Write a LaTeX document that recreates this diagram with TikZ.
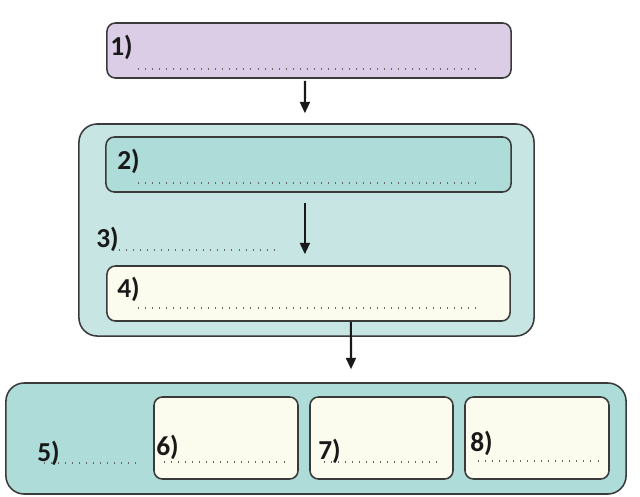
\documentclass[tikz,border=0pt]{standalone}
\usepackage{fontspec}
\setmainfont{Carlito}
\usetikzlibrary{arrows.meta}
\definecolor{lilac}{HTML}{DBCDE6}
\definecolor{paleteal}{HTML}{C6E5E3}
\definecolor{teal2}{HTML}{AEDDD9}
\definecolor{cream}{HTML}{FCFCEE}
\definecolor{edge}{HTML}{3A3A3A}
\tikzset{
  box/.style={draw=edge, line width=1.1pt, rounded corners=6pt, inner sep=0pt},
  grp/.style={box, rounded corners=13pt},
  num/.style={anchor=west, inner sep=0pt, text=black!90, font=\fontsize{19.5}{22}\selectfont\bfseries},
  dots/.style={draw=black!60, line width=0.9pt, dash pattern=on 0.7pt off 4.3pt},
  arr/.style={-{Triangle[length=8pt,width=7pt]}, line width=1.5pt, draw=black!90}
}
\begin{document}
\begin{tikzpicture}[x=0.025cm, y=-0.025cm]
\useasboundingbox (0,0) rectangle (640,496);

\node[box, fill=lilac, minimum width=10.1cm, minimum height=1.375cm] (box1) at (309,50.5) {};
\node[grp, fill=paleteal, minimum width=11.375cm, minimum height=5.3cm] (grpA) at (306.5,230) {};
\node[box, fill=teal2, minimum width=10.125cm, minimum height=1.375cm] (box2) at (308.5,164.5) {};
\node[box, fill=cream, minimum width=10.075cm, minimum height=1.375cm] (box4) at (308.5,293.5) {};
\node[grp, fill=teal2, minimum width=15.5cm, minimum height=2.775cm] (grpB) at (316,438.5) {};
\node[box, fill=cream, minimum width=3.6cm, minimum height=2.05cm] (box6) at (226,438) {};
\node[box, fill=cream, minimum width=3.575cm, minimum height=2.05cm] (box7) at (381.5,438) {};
\node[box, fill=cream, minimum width=3.6cm, minimum height=2.05cm] (box8) at (537,438) {};

% numbers
\node[num] (n1) at (110,47) {1)};
\node[num] (n2) at (117,161) {2)};
\node[num] (n3) at (96,239) {3)};
\node[num] (n4) at (117,289) {4)};
\node[num] (n5) at (37,453) {5)};
\node[num] (n6) at (156,447) {6)};
\node[num] (n7) at (318,451) {7)};
\node[num] (n8) at (470,443) {8)};

% answer lines
\draw[dots] (138,69) -- (480,69);
\draw[dots] (138,183) -- (480,183);
\draw[dots] (119,250) -- (280,250);
\draw[dots] (138,308) -- (480,308);
\draw[dots] (44,463) -- (136,463);
\draw[dots] (164,462) -- (288,462);
\draw[dots] (324,462) -- (441,462);
\draw[dots] (478,461) -- (604,461);

% arrows
\draw[arr] ([xshift=-0.1cm, yshift=-0.05cm]box1.south) -- ([xshift=-0.04cm, yshift=0.25cm]grpA.north);
\draw[arr] ([xshift=-0.09cm, yshift=-0.25cm]box2.south) -- ([xshift=-0.09cm, yshift=0.275cm]box4.north);
\draw[arr] ([xshift=1.06cm]box4.south) -- ([xshift=0.875cm, yshift=0.325cm]grpB.north);
\end{tikzpicture}
\end{document}
